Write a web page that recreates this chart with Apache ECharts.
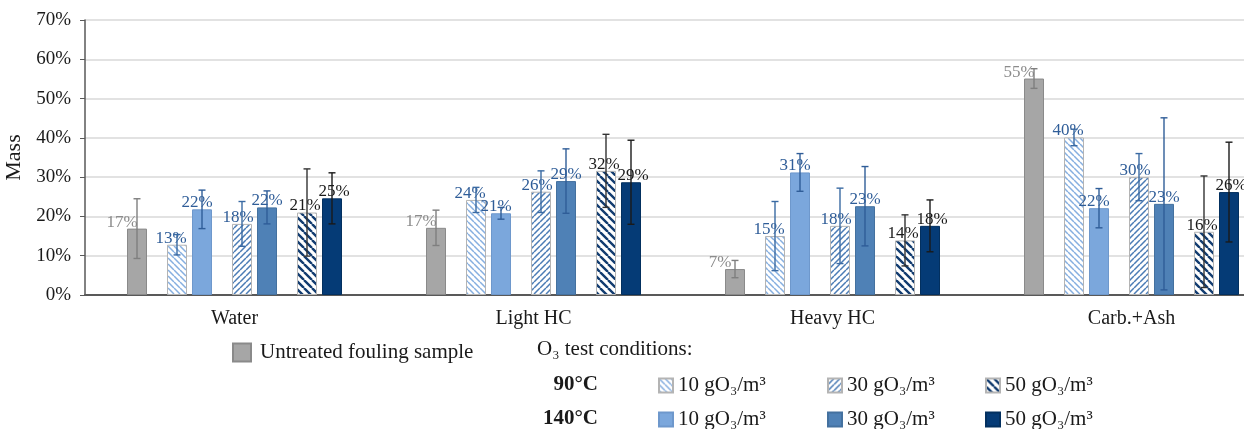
<!DOCTYPE html>
<html>
<head>
<meta charset="utf-8">
<script src="https://cdn.jsdelivr.net/npm/echarts@6/dist/echarts.min.js"></script>
<style>
  html, body { margin: 0; padding: 0; background: #fff; }
  #chart { width: 1244px; height: 429px; }
</style>
</head>
<body>
<div id="chart"></div>
<script>
const categories = ["Water", "Light HC", "Heavy HC", "Carb.+Ash"];
const yTicks = [0, 10, 20, 30, 40, 50, 60, 70];

// bar heights (%) and +/- error sizes (%)
const untreated = [16.9, 17.1, 6.6, 55.1];
const untreatedErr = [7.6, 4.5, 2.2, 2.5];
const t90_10 = [12.8, 24.2, 15.0, 40.1];
const t90_10Err = [2.6, 3.2, 8.8, 2.1];
const t140_10 = [21.8, 20.8, 31.2, 22.1];
const t140_10Err = [4.9, 1.5, 4.8, 5.0];
const t90_30 = [18.1, 26.3, 17.6, 30.0];
const t90_30Err = [5.7, 5.3, 9.6, 6.0];
const t140_30 = [22.3, 29.0, 22.6, 23.2];
const t140_30Err = [4.2, 8.2, 10.1, 21.9];
const t90_50 = [21.0, 31.6, 13.9, 16.1];
const t90_50Err = [11.1, 9.3, 6.5, 14.2];
const t140_50 = [24.6, 28.7, 17.6, 26.2];
const t140_50Err = [6.5, 10.7, 6.6, 12.7];

const FONT = "Liberation Serif";
const BAR_W = 20;
const GAP_W = 12;
const BAR_GAP = 0.25;

// diagonal hatch tile, "\" or "/"
function hatch(color, size, lw, dir) {
  const c = document.createElement("canvas");
  c.width = c.height = size;
  const ctx = c.getContext("2d");
  ctx.fillStyle = "#fff";
  ctx.fillRect(0, 0, size, size);
  ctx.strokeStyle = color;
  ctx.lineWidth = lw;
  ctx.beginPath();
  for (let k = -1; k <= 1; k++) {
    if (dir === "\\") {
      ctx.moveTo(k * size, 0);
      ctx.lineTo(k * size + size, size);
    } else {
      ctx.moveTo(k * size, size);
      ctx.lineTo(k * size + size, 0);
    }
  }
  ctx.stroke();
  return { image: c, repeat: "repeat" };
}

const BLUE_TXT = "#2f5d98";
const slots = [
  { name: "Untreated fouling sample", data: untreated, err: untreatedErr, color: "#a6a6a6", border: "#8a8a8a", txt: "#8c8c8c", errColor: "#7f7f7f", lx: -15 },
  null,
  { name: "90°C 10 gO₃/m³", data: t90_10, err: t90_10Err, color: hatch("#86afe0", 6, 1.5, "\\"), border: "#b4b4b4", txt: BLUE_TXT, errColor: "#3a6aa3", lx: -6 },
  { name: "140°C 10 gO₃/m³", data: t140_10, err: t140_10Err, color: "#7ba7dc", border: "#6e98cc", txt: BLUE_TXT, errColor: "#2f5d98", lx: -5 },
  null,
  { name: "90°C 30 gO₃/m³", data: t90_30, err: t90_30Err, color: hatch("#4b7cb5", 6, 1.5, "/"), border: "#b4b4b4", txt: BLUE_TXT, errColor: "#3a6aa3", lx: -4 },
  { name: "140°C 30 gO₃/m³", data: t140_30, err: t140_30Err, color: "#4f81b6", border: "#44719f", txt: BLUE_TXT, errColor: "#2f5d98", lx: 0 },
  null,
  { name: "90°C 50 gO₃/m³", data: t90_50, err: t90_50Err, color: hatch("#123c70", 8, 2.4, "\\"), border: "#b4b4b4", txt: "#1a1a1a", errColor: "#333", lx: -2 },
  { name: "140°C 50 gO₃/m³", data: t140_50, err: t140_50Err, color: "#053b76", border: "#03305f", txt: "#1a1a1a", errColor: "#1a1a1a", lx: 2 }
];

// same offsets as ECharts' bar layout: width*(1+gap) per column, centred
const widths = slots.map(s => (s ? BAR_W : GAP_W));
let total = 0;
widths.forEach(w => { total += w * (1 + BAR_GAP); });
total -= widths[widths.length - 1] * BAR_GAP;
const centers = [];
let off = -total / 2;
widths.forEach(w => { centers.push(off + w / 2); off += w * (1 + BAR_GAP); });

const series = [];
slots.forEach((s, i) => {
  if (!s) {
    series.push({ type: "bar", name: "gap" + i, barWidth: GAP_W, data: categories.map(() => null) });
    return;
  }
  series.push({
    type: "bar",
    name: s.name,
    barWidth: BAR_W,
    barGap: BAR_GAP * 100 + "%",
    data: s.data,
    itemStyle: { color: s.color, borderColor: s.border, borderWidth: 1 },
    label: {
      show: true,
      position: "top",
      distance: 0,
      offset: [s.lx, 2],
      formatter: p => Math.round(p.value) + "%",
      fontFamily: FONT,
      fontSize: 17,
      color: s.txt
    },
    z: 2
  });
});

slots.forEach((s, i) => {
  if (!s) return;
  const dx = centers[i];
  series.push({
    type: "custom",
    name: s.name + " err",
    z: 5,
    data: s.data.map((v, k) => [k, v - s.err[k], v + s.err[k]]),
    encode: { x: 0, y: [1, 2] },
    renderItem(params, api) {
      const x = api.coord([api.value(0), 0])[0] + dx;
      const lo = api.coord([api.value(0), api.value(1)])[1];
      const hi = api.coord([api.value(0), api.value(2)])[1];
      const st = { stroke: s.errColor, lineWidth: 1.4 };
      return {
        type: "group",
        children: [
          { type: "line", shape: { x1: x, y1: lo, x2: x, y2: hi }, style: st },
          { type: "line", shape: { x1: x - 3.5, y1: lo, x2: x + 3.5, y2: lo }, style: st },
          { type: "line", shape: { x1: x - 3.5, y1: hi, x2: x + 3.5, y2: hi }, style: st }
        ]
      };
    }
  });
});

const legendText = { fontFamily: FONT, fontSize: 21, color: "#1a1a1a" };
const stripTemp = name => name.replace(/^\d+°C /, "");
function oneLegend(name, left, top, size) {
  return {
    data: [name],
    left: left,
    top: top,
    padding: 0,
    icon: "rect",
    itemWidth: size,
    itemHeight: size,
    selectedMode: false,
    formatter: stripTemp,
    textStyle: Object.assign({}, legendText, size > 15 ? { padding: [0, 0, 0, 4] } : {})
  };
}

const chart = echarts.init(document.getElementById("chart"));
chart.setOption({
  animation: false,
  grid: { left: 85, right: -37, top: 20, bottom: 134, containLabel: false, outerBoundsMode: "none" },
  title: [
    { text: "O₃ test conditions:", left: 537, top: 339, padding: 0, textStyle: Object.assign({ fontWeight: "normal" }, legendText) },
    { text: "90°C", right: 646, top: 374, padding: 0, textStyle: Object.assign({}, legendText, { fontWeight: "bold" }) },
    { text: "140°C", right: 646, top: 408, padding: 0, textStyle: Object.assign({}, legendText, { fontWeight: "bold" }) }
  ],
  legend: [
    oneLegend("Untreated fouling sample", 232, 342, 18),
    oneLegend("90°C 10 gO₃/m³", 658, 375, 14),
    oneLegend("90°C 30 gO₃/m³", 827, 375, 14),
    oneLegend("90°C 50 gO₃/m³", 985, 375, 14),
    oneLegend("140°C 10 gO₃/m³", 658, 409, 14),
    oneLegend("140°C 30 gO₃/m³", 827, 409, 14),
    oneLegend("140°C 50 gO₃/m³", 985, 409, 14)
  ],
  xAxis: {
    type: "category",
    data: categories,
    axisLine: { lineStyle: { color: "#595959", width: 2 } },
    axisTick: { show: false },
    axisLabel: { fontFamily: FONT, fontSize: 20, color: "#1a1a1a", margin: 14 }
  },
  yAxis: {
    type: "value",
    min: yTicks[0],
    max: yTicks[yTicks.length - 1],
    interval: 10,
    name: "Mass",
    nameLocation: "middle",
    nameGap: 55,
    nameTextStyle: { fontFamily: FONT, fontSize: 22, color: "#1a1a1a" },
    axisLine: { show: true, lineStyle: { color: "#595959", width: 1.5 } },
    axisTick: { show: true, length: 5, lineStyle: { color: "#595959" } },
    axisLabel: { formatter: "{value}%", fontFamily: FONT, fontSize: 19, color: "#1a1a1a", margin: 14 },
    splitLine: { lineStyle: { color: "#d9d9d9", width: 1.5 } }
  },
  series: series
});
</script>
</body>
</html>
